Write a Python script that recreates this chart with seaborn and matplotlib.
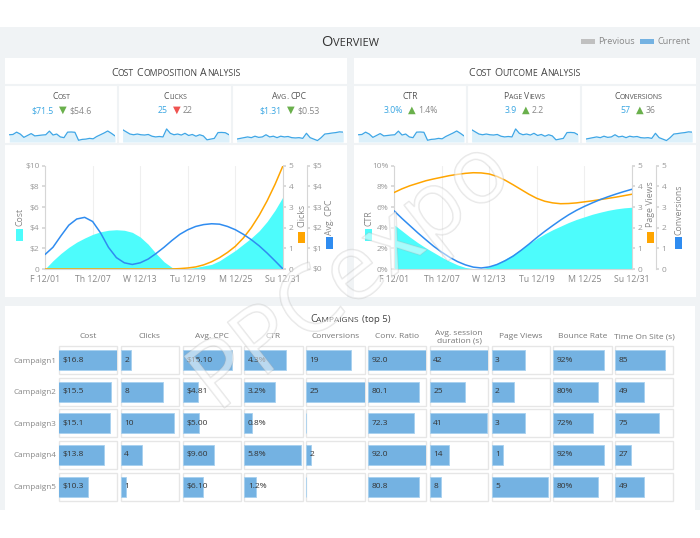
import numpy as np
import pandas as pd
import seaborn as sns
import matplotlib.pyplot as plt
import matplotlib.patheffects as pe
from matplotlib.patches import Rectangle

sns.set_theme(style='white')
plt.rcParams['font.family'] = ['Open Sans', 'DejaVu Sans']

W, H = 700, 538

# ---- daily series (Dec 1 .. Dec 31) ----
days = list(range(1, 32))
date_ticks = [1, 7, 13, 19, 25, 31]
date_labels = ['F 12/01', 'Th 12/07', 'W 12/13', 'Tu 12/19', 'M 12/25', 'Su 12/31']

cost = [0.0, 0.8, 1.5, 2.1, 2.6, 3.0, 3.35, 3.6, 3.75, 3.8, 3.75, 3.55, 3.1, 2.4, 1.5,
        0.7, 0.15, 0.02, 0.05, 0.15, 0.3, 0.45, 0.8, 1.3, 1.8, 2.4, 3.0, 3.7, 4.6, 5.7, 7.0]
clicks = [0, 0, 0, 0, 0, 0, 0, 0, 0, 0, 0, 0, 0, 0, 0, 0, 0, 0.02, 0.05, 0.1, 0.2, 0.35,
          0.55, 0.8, 1.1, 1.5, 2.0, 2.6, 3.3, 4.1, 5.0]
avg_cpc = [0.7, 1.05, 1.6, 2.12, 2.42, 2.5, 2.3, 1.75, 1.05, 0.55, 0.3, 0.22, 0.3, 0.48, 0.75,
           1.05, 1.38, 1.68, 1.9, 2.06, 2.15, 2.19, 2.17, 2.06, 1.9, 1.68, 1.42, 1.12, 0.77,
           0.39, 0.0]
ctr = [4.3, 3.7, 3.1, 2.55, 2.05, 1.6, 1.15, 0.75, 0.4, 0.15, 0.03, 0.02, 0.2, 0.55, 0.95,
       1.4, 1.9, 2.45, 2.95, 3.4, 3.8, 4.15, 4.5, 4.8, 5.05, 5.3, 5.5, 5.68, 5.82, 5.92, 5.98]
page_views = [3.7, 3.88, 4.03, 4.15, 4.27, 4.36, 4.44, 4.52, 4.58, 4.63, 4.66, 4.65, 4.6, 4.48,
              4.3, 4.08, 3.85, 3.62, 3.42, 3.28, 3.2, 3.16, 3.17, 3.2, 3.25, 3.3, 3.36, 3.42,
              3.48, 3.55, 3.62]
conversions = [2.82, 2.45, 2.1, 1.75, 1.42, 1.1, 0.82, 0.57, 0.36, 0.2, 0.09, 0.05, 0.1, 0.22,
               0.4, 0.62, 0.9, 1.2, 1.52, 1.82, 2.1, 2.37, 2.62, 2.84, 3.03, 3.2, 3.36, 3.5,
               3.63, 3.75, 3.86]

# ---- KPI tiles ----
kpi_titles = ['Cost', 'Clicks', 'Avg. CPC', 'CTR', 'Page Views', 'Conversions']
kpi_current = ['$71.5', '25', '$1.31', '3.0%', '3.9', '57']
kpi_previous = ['$54.6', '22', '$0.53', '1.4%', '2.2', '36']
kpi_arrow = ['down', 'down', 'down', 'up', 'up', 'up']
kpi_good = [True, False, True, True, True, True]

spark_cost = [5.0, 5.2, 6.8, 5.5, 3.2, 4.5, 5.8, 4.2, 4.5, 4.8, 5.0, 7.5, 4.8, 5.5, 3.5,
              3.0, 6.8, 6.9, 6.7, 1.2, 1.8, 2.0, 2.5, 2.2, 3.8, 5.0, 6.2, 7.6, 6.0, 4.2]
spark_clicks = [8.5, 7.0, 5.5, 5.0, 5.5, 5.0, 4.8, 5.2, 4.0, 3.5, 3.8, 3.5, 9.0, 6.0, 5.0,
                5.5, 4.8, 6.0, 4.5, 5.2, 4.0, 5.0, 4.2, 1.5, 2.0, 2.5, 6.5, 6.6, 6.4, 5.0]
spark_cpc = [2.0, 2.5, 3.0, 3.5, 3.0, 4.0, 3.2, 3.5, 5.0, 3.5, 4.0, 3.0, 4.0, 3.5, 3.8,
             3.0, 2.8, 3.0, 2.5, 6.0, 3.0, 2.0, 1.0, 3.0, 5.5, 5.8, 6.2, 6.5, 7.0, 6.8]
spark_ctr = spark_cost
spark_page_views = spark_clicks
spark_conversions = spark_cpc

# ---- campaigns table ----
campaigns = ['Campaign1', 'Campaign2', 'Campaign3', 'Campaign4', 'Campaign5']
camp_cost = [16.8, 15.5, 15.1, 13.8, 10.3]
camp_clicks = [2, 8, 10, 4, 1]
camp_cpc = [15.10, 4.81, 5.00, 9.60, 6.10]
camp_ctr = [4.3, 3.2, 0.8, 5.8, 1.2]
camp_conv = [19, 25, 0, 2, 0]
camp_conv_ratio = [92.0, 80.1, 72.3, 92.0, 80.8]
camp_session = [42, 25, 41, 14, 8]
camp_page_views = [3, 2, 3, 1, 5]
camp_bounce = [92, 80, 72, 92, 80]
camp_time = [85, 49, 75, 27, 49]

table_headers = ['Cost', 'Clicks', 'Avg. CPC', 'CTR', 'Conversions', 'Conv. Ratio',
                 'Avg. session\nduration (s)', 'Page Views', 'Bounce Rate', 'Time On Site (s)']
table_values = [camp_cost, camp_clicks, camp_cpc, camp_ctr, camp_conv, camp_conv_ratio,
                camp_session, camp_page_views, camp_bounce, camp_time]
table_formats = ['${:.1f}', '{:d}', '${:.2f}', '{:.1f}%', '{:d}', '{:.1f}', '{:d}', '{:d}',
                 '{:d}%', '{:d}']
table_domains = [(4, 16.8), (0, 11), (0, 17.8), (0, 6), (0, 25), (0, 92), (0, 42), (0, 5.2),
                 (0, 105), (0, 100)]

# ---- colours ----
BG = '#f0f3f5'
CYAN = '#4dfcfc'
ORANGE = '#ffa500'
BLUE = '#2f8cf0'
BAR = '#74b2e2'
SPINE = '#d6d6d6'
TICK = '#999999'
VAL_BLUE = '#3aa6e2'

fig = plt.figure(figsize=(W / 100, H / 100), dpi=100)
bg = fig.add_axes([0, 0, 1, 1])
bg.set_xlim(0, W)
bg.set_ylim(H, 0)
bg.axis('off')
renderer = fig.canvas.get_renderer()


def frac(x0, y0, x1, y1):
    return [x0 / W, 1 - y1 / H, (x1 - x0) / W, (y1 - y0) / H]


def text_width(s, size, family=None):
    t = bg.text(0, 0, s, fontsize=size, family=family)
    w = t.get_window_extent(renderer).width
    t.remove()
    return w


def draw_runs(x, y, runs):
    # runs of (text, size, colour, family); a number is a gap in pixels
    widths = []
    for s, size, color, fam in runs:
        if isinstance(s, (int, float)):
            widths.append(s)
        elif s == ' ':
            widths.append(text_width('x x', size, fam) - text_width('xx', size, fam))
        else:
            widths.append(text_width(s, size, fam))
    cx = x - sum(widths) / 2
    for (s, size, color, fam), w in zip(runs, widths):
        if isinstance(s, str) and s != ' ':
            bg.text(cx, y, s, fontsize=size, color=color, family=fam,
                    ha='left', va='baseline')
        cx += w


def small_caps(s, big, small, color):
    runs = []
    for i, word in enumerate(s.split(' ')):
        if i:
            runs.append((' ', big, color, None))
        buf, buf_small = '', None
        for ch in word:
            is_small = ch.islower()
            if buf and is_small != buf_small:
                runs.append((buf, small if buf_small else big, color, None))
                buf = ''
            buf += ch.upper()
            buf_small = is_small
        if buf:
            runs.append((buf, small if buf_small else big, color, None))
    return runs


# ---- background & panels ----
bg.add_patch(Rectangle((0, 27), 700, 483, color=BG, lw=0))
for x0 in (5, 354):
    bg.add_patch(Rectangle((x0, 58), 341.5, 239, color='white', lw=0))
    bg.plot([x0, x0 + 341.5], [85, 85], color=BG, lw=1.5)
    bg.plot([x0, x0 + 341.5], [144, 144], color=BG, lw=1.5)
    for xs in (113.3, 227.3):
        bg.plot([x0 + xs, x0 + xs], [85, 144], color=BG, lw=1.5)
bg.add_patch(Rectangle((5, 306), 690, 204, color='white', lw=0))

# title & legend
draw_runs(350, 46, small_caps('Overview', 10.5, 8, '#333333'))
bg.add_patch(Rectangle((581, 39), 14, 5, color='#c0c0c0', lw=0))
bg.text(598, 41.5, 'Previous', fontsize=6.6, color='#888888', va='center')
bg.add_patch(Rectangle((640, 39), 14, 5, color=BAR, lw=0))
bg.text(657, 41.5, 'Current', fontsize=6.6, color='#888888', va='center')

draw_runs(175.5, 76.3, small_caps('Cost Composition Analysis', 7.6, 6.2, '#444444'))
draw_runs(524.5, 76.3, small_caps('Cost Outcome Analysis', 7.6, 6.2, '#444444'))

# ---- KPI tiles ----
sparks = [spark_cost, spark_clicks, spark_cpc, spark_ctr, spark_page_views, spark_conversions]
for i in range(6):
    panel_x = 5 if i < 3 else 354
    edges = [0, 113.3, 227.3, 341.5]
    k = i % 3
    bl, br = panel_x + edges[k], panel_x + edges[k + 1]
    cx = (bl + br) / 2
    draw_runs(cx, 98.7, small_caps(kpi_titles[i], 6.2, 5.0, '#555555'))
    tri = '\u25bc' if kpi_arrow[i] == 'down' else '\u25b2'
    tcol = '#6ab04c' if kpi_good[i] else '#ef5350'
    draw_runs(cx, 113, [(kpi_current[i], 6.3, VAL_BLUE, None), (5, 6, None, None),
                        (tri, 7.2, tcol, 'DejaVu Sans'), (2.5, 6, None, None),
                        (kpi_previous[i], 6.3, '#888888', None)])
    sax = fig.add_axes(frac(bl + 4.3, 127.5, br - 3.3, 142))
    sax.set_facecolor('none')
    xs = list(range(len(sparks[i])))
    sax.fill_between(xs, sparks[i], color='#dcf0fa', lw=0)
    sns.lineplot(x=xs, y=sparks[i], ax=sax, color='#3ea6e6', lw=0.9)
    sax.set_xlim(0, len(xs) - 1)
    sax.set_ylim(0, 10)
    sax.axis('off')


# ---- combo charts ----
def combo_chart(shift, area, line1, line2, left_labels, right2_labels, names):
    ax = fig.add_axes(frac(45 + shift, 165.7, 283 + shift, 269))
    ax.set_facecolor('none')
    ax.fill_between(days, area, color=CYAN, lw=0, zorder=2)
    ax2 = ax.twinx()
    sns.lineplot(x=days, y=line1, ax=ax2, color=ORANGE, lw=1.1)
    ax3 = ax.twinx()
    ax3.spines['right'].set_position(('outward', 24 * 0.72))
    sns.lineplot(x=days, y=line2, ax=ax3, color=BLUE, lw=1.1)

    ax.set_xlim(1, 31)
    ax.set_ylim(0, 10)
    ax.set_xticks(date_ticks, date_labels)
    ax.set_yticks(range(0, 11, 2), left_labels)
    ax.grid(axis='x', color='#efefef', lw=0.8)
    ax.grid(axis='y', visible=False)
    ax.set_axisbelow(True)
    for a, labels in ((ax2, [str(v) for v in range(6)]), (ax3, right2_labels)):
        a.set_ylim(0, 5)
        a.set_yticks(range(6), labels)
        a.set_ylabel('')
        for sp in ('top', 'left', 'bottom'):
            a.spines[sp].set_visible(False)
        a.spines['right'].set_color(SPINE)
        a.spines['right'].set_linewidth(0.8)
        a.tick_params(axis='y', length=2.5, color=SPINE, labelsize=6, labelcolor=TICK, pad=1.5)
    ax.spines['top'].set_visible(False)
    ax.spines['right'].set_visible(False)
    for sp in ('left', 'bottom'):
        ax.spines[sp].set_color(SPINE)
        ax.spines[sp].set_linewidth(0.8)
    ax.tick_params(axis='y', length=2.5, color=SPINE, labelsize=6, labelcolor=TICK, pad=1.5)
    ax.tick_params(axis='x', length=0, labelsize=6.3, labelcolor='#888888', pad=4)

    # axis names with colour keys
    specs = [(20, 226.5, 15.7, 229, names[0], CYAN),
             (301.7, 226.7, 297.7, 231.7, names[1], ORANGE),
             (330, 235, 326, 237, names[2], BLUE)]
    for tx, ty, rx, ry, name, col in specs:
        bg.text(tx + shift, ty, name, rotation=90, fontsize=6.3, color='#888888',
                ha='center', va='bottom')
        bg.add_patch(Rectangle((rx + shift, ry), 7, 11.5, color=col, lw=0))


combo_chart(0, cost, clicks, avg_cpc,
            ['0', '$2', '$4', '$6', '$8', '$10'], ['$' + str(v) for v in range(6)],
            ['Cost', 'Clicks', 'Avg. CPC'])
combo_chart(349, ctr, page_views, conversions,
            [f'{v}%' for v in range(0, 11, 2)], [str(v) for v in range(6)],
            ['CTR', 'Page Views', 'Conversions'])

# ---- campaigns table ----
draw_runs(350, 321.8, small_caps('Campaigns', 7.4, 6.0, '#444444')
          + [(' ', 7.0, '#444444', None), ('(top 5)', 6.8, '#444444', None)])

pitch = 31.56
half_box = 14 / pitch
for i, (header, vals, fmt, (lo, hi)) in enumerate(zip(table_headers, table_values,
                                                     table_formats, table_domains)):
    x0 = 59 + 61.8 * i
    x1 = x0 + 58.3
    ax = fig.add_axes(frac(x0, 344.5, x1, 344.5 + 5 * pitch))
    ax.set_facecolor('none')
    df = pd.DataFrame({'campaign': campaigns, 'value': vals})
    sns.barplot(data=df, x='value', y='campaign', ax=ax, color=BAR, width=20 / pitch,
                saturation=1, edgecolor='#a6d0ef', linewidth=0.6, zorder=3)
    ax.set_xlim(lo, hi)
    ax.set_ylim(4.5, -0.5)
    for r, v in enumerate(vals):
        ax.add_patch(Rectangle((lo, r - half_box), hi - lo, 2 * half_box, facecolor='white',
                               edgecolor='#e6e6e6', lw=1.0, zorder=1, clip_on=False))
        label = fmt.format(v) if v != 0 else ''
        ax.annotate(label, (lo, r), xytext=(3.5, 0), textcoords='offset pixels',
                    fontsize=6, color='#333333', va='center', ha='left', zorder=4)
    for sp in ax.spines.values():
        sp.set_visible(False)
    ax.set_xlabel('')
    ax.set_ylabel('')
    ax.set_xticks([])
    if i == 0:
        ax.tick_params(axis='y', length=0, labelsize=5.9, labelcolor='#888888', pad=2)
    else:
        ax.set_yticks([])
    bg.text((x0 + x1) / 2, 337, header, fontsize=6, color='#777777', ha='center',
            va='center', linespacing=1.1)

# watermark
fig.text(352 / W, 1 - 278 / H, 'PPCexpo', fontsize=66, rotation=38, color='white',
         alpha=0.3, ha='center', va='center', zorder=20,
         path_effects=[pe.withStroke(linewidth=1.1, foreground='#b0b0b0')])

fig.savefig('out.png', dpi=100)
